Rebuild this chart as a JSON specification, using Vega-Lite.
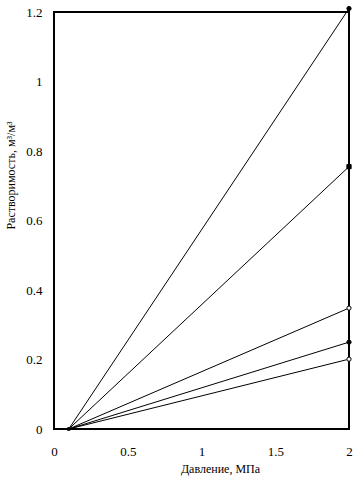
{
  "$schema": "https://vega.github.io/schema/vega-lite/v6.json",
  "width": 295,
  "height": 417,
  "autosize": {"type": "none"},
  "padding": {"left": 54, "top": 12, "right": 10, "bottom": 58},
  "background": "white",
  "config": {
    "view": {"stroke": "black", "strokeWidth": 2},
    "font": "Liberation Serif",
    "axis": {
      "grid": false,
      "ticks": false,
      "domain": false,
      "labelFont": "Liberation Serif",
      "labelFontSize": 13,
      "labelColor": "black",
      "titleFont": "Liberation Serif",
      "titleFontSize": 12,
      "titleFontWeight": "normal",
      "titleColor": "black"
    }
  },
  "data": {
    "values": [
      {"series": "A", "p": 0.1, "s": 0},
      {"series": "A", "p": 2, "s": 1.21},
      {"series": "B", "p": 0.1, "s": 0},
      {"series": "B", "p": 2, "s": 0.755},
      {"series": "C", "p": 0.1, "s": 0},
      {"series": "C", "p": 2, "s": 0.348},
      {"series": "D", "p": 0.1, "s": 0},
      {"series": "D", "p": 2, "s": 0.25},
      {"series": "E", "p": 0.1, "s": 0},
      {"series": "E", "p": 2, "s": 0.201}
    ]
  },
  "encoding": {
    "x": {
      "field": "p",
      "type": "quantitative",
      "scale": {"domain": [0, 2], "nice": false},
      "axis": {
        "values": [0, 0.5, 1, 1.5, 2],
        "format": "~g",
        "labelPadding": 16,
        "labelFlush": false,
        "title": "Давление, МПа",
        "titleX": 166,
        "titleY": 34
      }
    },
    "y": {
      "field": "s",
      "type": "quantitative",
      "scale": {"domain": [0, 1.2], "nice": false},
      "axis": {
        "values": [0, 0.2, 0.4, 0.6, 0.8, 1, 1.2],
        "format": "~g",
        "labelPadding": 12,
        "labelFlush": false,
        "title": "Растворимость, м³/м³",
        "titleX": -44,
        "titleY": 163,
        "titleBaseline": "middle",
        "titleAlign": "center"
      }
    }
  },
  "layer": [
    {
      "mark": {"type": "line", "color": "black", "strokeWidth": 1},
      "encoding": {"detail": {"field": "series"}}
    },
    {
      "transform": [{"filter": "datum.p == 2"}],
      "mark": {"type": "point", "size": 18, "stroke": "black", "strokeWidth": 1, "opacity": 1},
      "encoding": {
        "shape": {
          "field": "series",
          "scale": {"domain": ["A", "B", "C", "D", "E"], "range": ["circle", "square", "circle", "circle", "circle"]},
          "legend": null
        },
        "fill": {
          "field": "series",
          "scale": {"domain": ["A", "B", "C", "D", "E"], "range": ["black", "black", "white", "black", "white"]},
          "legend": null
        }
      }
    },
    {
      "transform": [{"filter": "datum.p == 0.1 && datum.series == 'A'"}],
      "mark": {"type": "point", "size": 18, "filled": true, "color": "black", "opacity": 1}
    }
  ]
}
